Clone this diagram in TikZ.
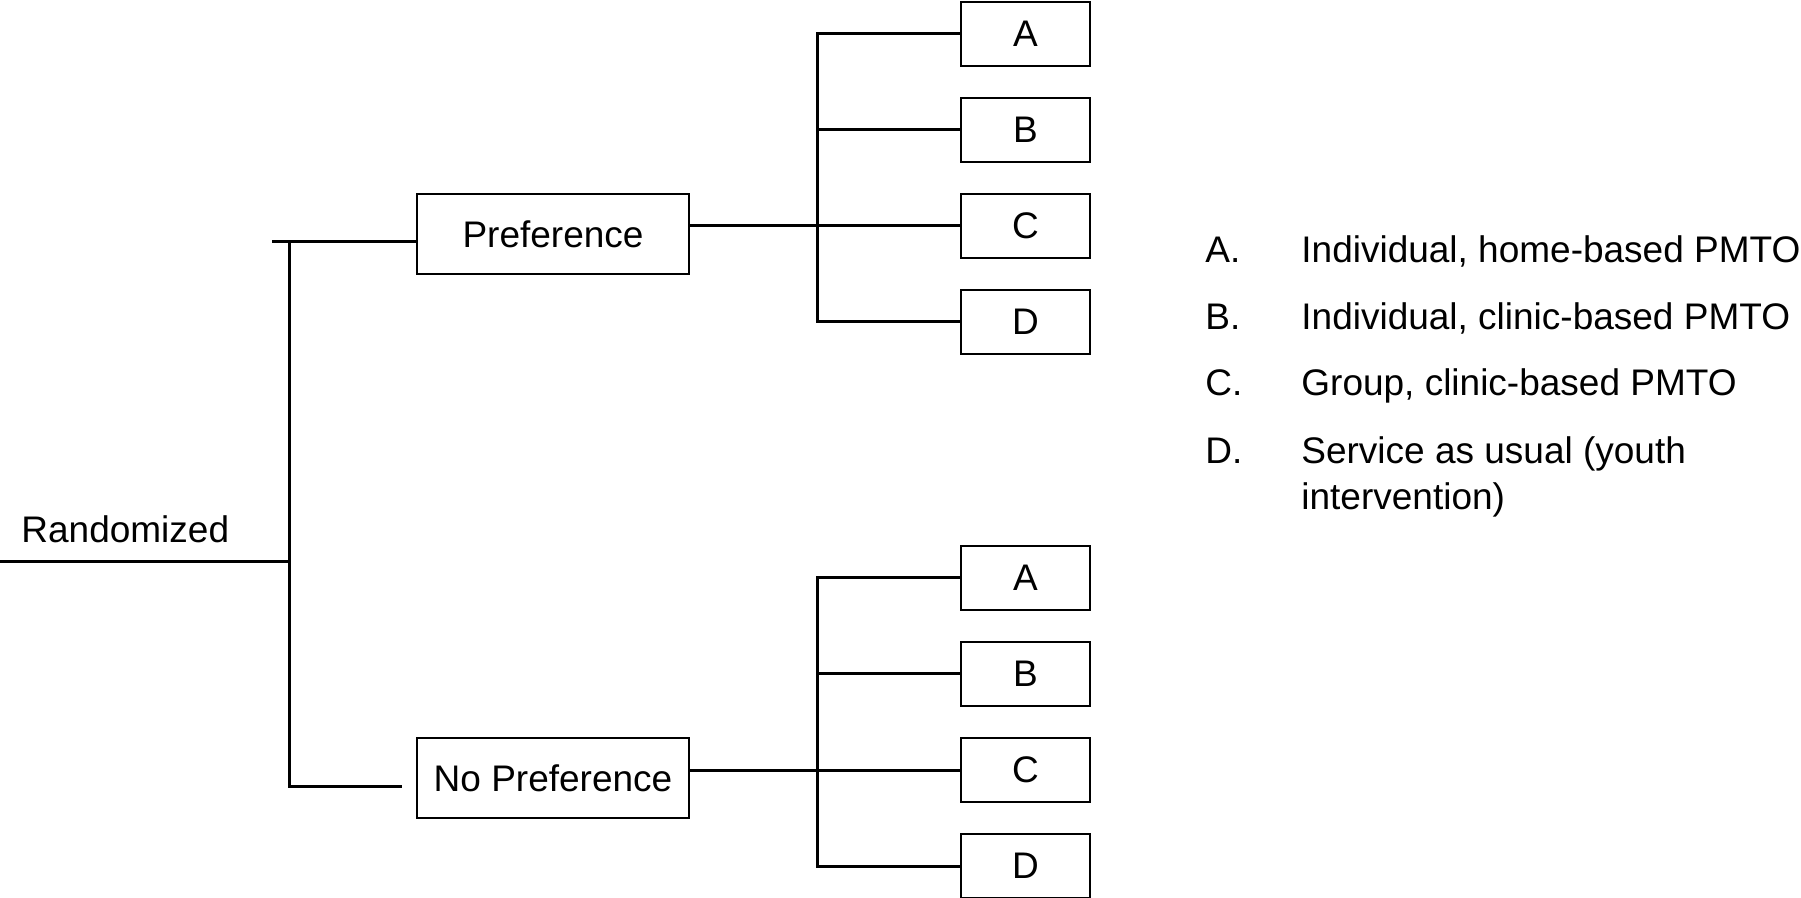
\documentclass[tikz,border=0pt]{standalone}
\usepackage{fontspec}
\setmainfont{Liberation Sans}
\begin{document}
\begin{tikzpicture}[x=0.5pt,y=-0.5pt,
  every node/.style={font=\fontsize{18.5}{22}\selectfont},
  conn/.style={line width=1.5pt,line cap=rect},
  bigbox/.style={draw,line width=1.4pt,minimum width=136pt,minimum height=40pt,inner sep=0pt},
  letbox/.style={draw,line width=1.4pt,minimum width=64.5pt,minimum height=32pt,inner sep=0pt},
  txt/.style={anchor=base west,inner sep=0pt}]
\useasboundingbox (0,0) rectangle (1801,898);
% left part
\node[txt] (rand) at (21,543) {Randomized};
\coordinate (r0) at (0,562);
\coordinate (tr) at (289.5,562);
\coordinate (trtop) at (289.5,242);
\coordinate (trbot) at (289.5,786);
\coordinate (stubL) at (273,242);
\coordinate (stubR) at (400.5,786);
\node[bigbox] (pref) at (553,234) {Preference};
\node[bigbox] (npref) at (553,778) {No Preference};
% letter boxes
\node[letbox] (Aa) at (1025.5,34) {A};
\node[letbox] (Ba) at (1025.5,130) {B};
\node[letbox] (Ca) at (1025.5,226) {C};
\node[letbox] (Da) at (1025.5,322) {D};
\node[letbox] (Ab) at (1025.5,578) {A};
\node[letbox] (Bb) at (1025.5,674) {B};
\node[letbox] (Cb) at (1025.5,770) {C};
\node[letbox] (Db) at (1025.5,866) {D};
\coordinate (bus) at (817,0);
% connectors
\draw[conn] (r0) -- (tr);
\draw[conn] (trtop) -- (trbot);
\draw[conn] (stubL) -- (stubL -| pref.west);
\draw[conn] (trbot) -- (stubR);
\draw[conn] (pref.east |- Ca) -- (Ca.west);
\draw[conn] (npref.east |- Cb) -- (Cb.west);
\draw[conn] (bus |- Aa) -- (bus |- Da);
\draw[conn] (bus |- Ab) -- (bus |- Db);
\foreach \b in {Aa,Ba,Da,Ab,Bb,Db}{
  \draw[conn] (bus |- \b) -- (\b.west);
}
% legend
\node[txt] (la) at (1205,262.3) {A.};
\node[txt] (lb) at (1205,329.3) {B.};
\node[txt] (lc) at (1205,396) {C.};
\node[txt] (ld) at (1205,464) {D.};
\node[txt] (ta) at (1301,262.3) {Individual, home-based PMTO};
\node[txt] (tb) at (1301,329.3) {Individual, clinic-based PMTO};
\node[txt] (tc) at (1301,396) {Group, clinic-based PMTO};
\node[txt] (td) at (1301,464) {Service as usual (youth};
\node[txt] (td2) at (1301,510) {intervention)};
\end{tikzpicture}
\end{document}
